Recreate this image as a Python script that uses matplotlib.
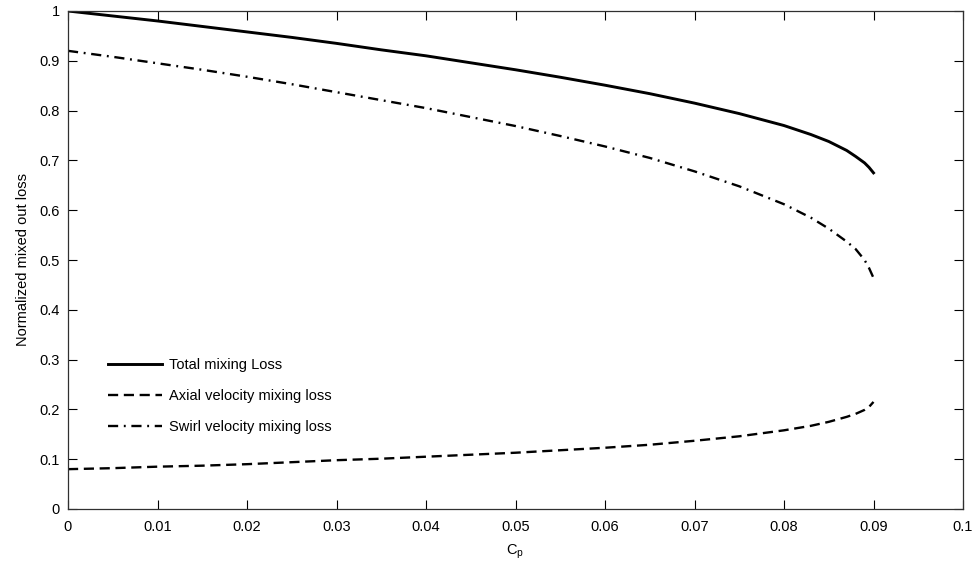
import matplotlib
matplotlib.use("Agg")
import matplotlib.pyplot as plt

plt.rcParams['font.family'] = ['Liberation Sans', 'DejaVu Sans']
plt.rcParams['mathtext.fontset'] = 'custom'
plt.rcParams['mathtext.rm'] = 'Liberation Sans'

cp = [0, 0.005, 0.01, 0.015, 0.02, 0.025, 0.03, 0.035, 0.04, 0.045, 0.05,
      0.055, 0.06, 0.065, 0.07, 0.075, 0.08, 0.083, 0.085, 0.087, 0.088,
      0.089, 0.0895, 0.09]
total_loss = [1.0, 0.99, 0.98, 0.969, 0.958, 0.947, 0.935, 0.922, 0.91, 0.896,
              0.882, 0.867, 0.851, 0.834, 0.815, 0.794, 0.77, 0.752, 0.738,
              0.72, 0.708, 0.695, 0.686, 0.675]
axial_loss = [0.08, 0.082, 0.085, 0.087, 0.09, 0.094, 0.098, 0.101, 0.105,
              0.109, 0.113, 0.118, 0.123, 0.129, 0.137, 0.146, 0.158, 0.167,
              0.175, 0.185, 0.191, 0.199, 0.205, 0.215]
swirl_loss = [0.92, 0.908, 0.895, 0.882, 0.868, 0.853, 0.837, 0.821, 0.805,
              0.787, 0.769, 0.749, 0.728, 0.705, 0.678, 0.648, 0.612, 0.585,
              0.563, 0.537, 0.522, 0.5, 0.484, 0.464]

labels = ['Total mixing Loss', 'Axial velocity mixing loss',
          'Swirl velocity mixing loss']
xticks = [0, 0.01, 0.02, 0.03, 0.04, 0.05, 0.06, 0.07, 0.08, 0.09, 0.1]
xticklabels = ['0', '0.01', '0.02', '0.03', '0.04', '0.05', '0.06', '0.07',
               '0.08', '0.09', '0.1']
yticks = [0, 0.1, 0.2, 0.3, 0.4, 0.5, 0.6, 0.7, 0.8, 0.9, 1]
yticklabels = ['0', '0.1', '0.2', '0.3', '0.4', '0.5', '0.6', '0.7', '0.8',
               '0.9', '1']

fig = plt.figure(figsize=(9.74, 5.71), dpi=100)
ax = fig.add_axes([68 / 974, 62 / 571, 895 / 974, 498 / 571])

ax.plot(cp, total_loss, color='black', lw=2.1, linestyle='-', label=labels[0])
ax.plot(cp, axial_loss, color='black', lw=1.7, linestyle=(0, (4.3, 2.4)),
        label=labels[1])
ax.plot(cp, swirl_loss, color='black', lw=1.7,
        linestyle=(0, (4.3, 2.4, 0.8, 2.4)), label=labels[2])

ax.set_xlim(0, 0.1)
ax.set_ylim(0, 1)
ax.set_xticks(xticks)
ax.set_xticklabels(xticklabels)
ax.set_yticks(yticks)
ax.set_yticklabels(yticklabels)
ax.tick_params(direction='in', length=6.5, width=0.8, top=True, right=True,
               labelsize=10.5, colors='black')
ax.tick_params(axis='x', pad=8)
ax.tick_params(axis='y', pad=6)
for s in ax.spines.values():
    s.set_linewidth(0.9)
    s.set_color('#303030')

ax.set_xlabel(r'C$_{\mathregular{p}}$', fontsize=10.5, labelpad=6)
ax.set_ylabel('Normalized mixed out loss', fontsize=10.5, labelpad=7)

ax.legend(loc='upper left', bbox_to_anchor=(0.0447, 0.303), frameon=False,
          fontsize=10.5, handlelength=3.7, handletextpad=0.5,
          labelspacing=1.15, borderpad=0, borderaxespad=0)

fig.savefig('out.png', dpi=100)
